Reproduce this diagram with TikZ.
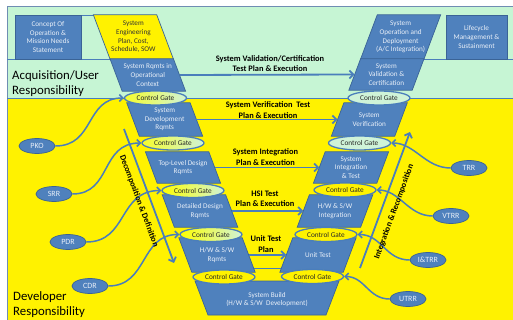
\documentclass[tikz,border=0pt]{standalone}
\usepackage{fontspec}
\setmainfont{Carlito}
\usetikzlibrary{arrows.meta,calc,shapes.geometric}

\definecolor{mintbg}{HTML}{C6F5D4}
\definecolor{gatemint}{HTML}{CFF3D8}
\definecolor{blockblue}{HTML}{4F81BD}
\definecolor{blockedge}{HTML}{3A6396}
\definecolor{linkblue}{HTML}{4A7EBB}
\definecolor{framegray}{HTML}{6F8DB3}
\definecolor{softwhite}{HTML}{E9EFF8}

\pgfdeclarelayer{back}
\pgfdeclarelayer{mid}
\pgfsetlayers{back,mid,main}

\tikzset{
  blktext/.style={minimum width=63, inner sep=0pt, align=center, text=softwhite,
    font=\fontsize{7.2}{8.7}\selectfont},
  blkshape/.style={fill=blockblue, draw=blockedge, line width=0.7pt},
  gate/.style={ellipse, draw=linkblue, line width=1.3pt, minimum width=62, minimum height=14,
    inner sep=0pt, text=black!85, font=\fontsize{7.3}{7.5}\selectfont},
  mintgate/.style={gate, fill=gatemint},
  yellowgate/.style={gate, fill=yellow},
  halfgate/.style={gate, left color=yellow, right color=gatemint},
  lightgate/.style={gate, left color=yellow!80!gatemint, middle color=gatemint, right color=gatemint},
  review/.style={ellipse, fill=blockblue, draw=blockedge, line width=0.7pt, minimum width=36,
    minimum height=15, inner sep=0pt, text=softwhite, font=\fontsize{8}{9}\selectfont},
  flow/.style={draw=linkblue, line width=1.8pt, -{Straight Barb[length=4pt,width=8pt]}},
  reviewlink/.style={draw=linkblue, line width=1.5pt, -{Straight Barb[length=3.5pt,width=7pt]}},
  planlabel/.style={inner sep=0pt, align=center, font=\bfseries\fontsize{8.4}{10.4}\selectfont},
  phaselabel/.style={inner sep=0pt, font=\bfseries\fontsize{8.4}{10}\selectfont},
  zonelabel/.style={inner sep=0pt, align=left, anchor=base west, font=\fontsize{12.8}{14.5}\selectfont},
  rowline/.style={draw=linkblue, line width=0.7pt},
}

% left-arm block: bottom edge shifted right of the top edge
\newcommand\lblk[5]{%
  \node[blktext, minimum height=#4] (#1) at (#2,#3) {#5};
  \begin{pgfonlayer}{mid}
    \path[blkshape] ([xshift=-0.19*#4]#1.north west) -- ([xshift=-0.19*#4]#1.north east)
      -- ([xshift=0.19*#4]#1.south east) -- ([xshift=0.19*#4]#1.south west) -- cycle;
  \end{pgfonlayer}}
% right-arm block: bottom edge shifted left of the top edge
\newcommand\rblk[5]{%
  \node[blktext, minimum height=#4] (#1) at (#2,#3) {#5};
  \begin{pgfonlayer}{mid}
    \path[blkshape] ([xshift=0.19*#4]#1.north west) -- ([xshift=0.19*#4]#1.north east)
      -- ([xshift=-0.19*#4]#1.south east) -- ([xshift=-0.19*#4]#1.south west) -- cycle;
  \end{pgfonlayer}}

\begin{document}
\begin{tikzpicture}[x=1pt, y=-1pt]
\useasboundingbox (0,0) rectangle (513,320);

% background zones and row lines
\begin{pgfonlayer}{back}
  \fill[mintbg] (7,6) rectangle (513,98);
  \fill[yellow] (7,98) rectangle (513,320);
  \draw[framegray, line width=0.8pt] (7,320) -- (7,6) -- (513,6);
  \draw[rowline, line width=0.9pt] (7,98) -- (513,98);
  \draw[rowline] (7,59.5) -- (112,59.5);
  \draw[rowline] (420,59.5) -- (513,59.5);
  \draw[rowline] (80,15) -- (97,15);
  \draw[rowline] (240,268.5) -- (292,268.5);
\end{pgfonlayer}

% zone labels (anchored on the baseline of their last line)
\node[zonelabel] (acq) at (12,94.5) {Acquisition/User\\Responsibility};
\node[zonelabel] (dev) at (13,315) {Developer\\Responsibility};

% top row boxes
\node[blktext, minimum width=66, minimum height=44, fill=blockblue, draw=blockedge, line width=0.7pt]
  (conops) at (48,37) {Concept Of\\Operation \&\\Mission Needs\\Statement};
\node[blktext, minimum width=61, minimum height=44, fill=blockblue, draw=blockedge, line width=0.7pt]
  (lifecycle) at (476.5,37) {Lifecycle\\Management \&\\Sustainment};

% systems engineering plan (yellow block)
\node[blktext, minimum height=44, text=black!80] (l0) at (133.4,37)
  {System\\Engineering\\Plan, Cost,\\Schedule, SOW};
\begin{pgfonlayer}{mid}
  \path[fill=yellow, draw=blockedge, line width=0.7pt]
    ([xshift=-8.36]l0.north west) -- ([xshift=-8.36]l0.north east)
    -- ([xshift=8.36]l0.south east) -- ([xshift=8.36]l0.south west) -- cycle;
\end{pgfonlayer}

% left arm
\lblk{l1}{147.8}{75}{32}{System Rqmts in\\Operational\\Context}
\lblk{l2}{164.7}{119.5}{33}{System\\Development\\Rqmts}
\lblk{l3}{183}{167.5}{31}{Top-Level Design\\Rqmts}
\lblk{l4}{200}{211}{32}{Detailed Design\\Rqmts}
\lblk{l5}{217}{255}{34}{H/W \& S/W\\Rqmts}

% right arm
\rblk{r0}{400.6}{37}{44}{System\\Operation and\\Deployment\\(A/C Integration)}
\rblk{r1}{386.4}{74.5}{31}{System\\Validation \&\\Certification}
\rblk{r2}{369.3}{119.5}{33}{System\\Verification}
\rblk{r3}{351}{167.5}{31}{System\\Integration\\\& Test}
\rblk{r4}{335}{211}{32}{H/W \& S/W\\Integration}
\rblk{r5}{318}{255}{34}{Unit Test}

% system build at the base of the V
\node[blktext, minimum width=110, minimum height=30] (build) at (267,299.5)
  {System Build\\(H/W \& S/W~ Development)};
\begin{pgfonlayer}{mid}
  \path[blkshape] (195,281) -- (339,281) -- (326,315) -- (208,315) -- cycle;
\end{pgfonlayer}

% control gates
\node[lightgate]  (gl1) at (155.5,98)  {Control Gate};
\node[mintgate]   (gr1) at (379,98)    {Control Gate};
\node[lightgate]  (gl2) at (173,143)   {Control Gate};
\node[mintgate]   (gr2) at (359.5,143) {Control Gate};
\node[halfgate]   (gl3) at (193,190.5) {Control Gate};
\node[yellowgate] (gr3) at (345,190)   {Control Gate};
\node[halfgate]   (gl4) at (211,234.5) {Control Gate};
\node[yellowgate] (gr4) at (326,234.5) {Control Gate};
\node[yellowgate] (gl5) at (224,277)   {Control Gate};
\node[yellowgate] (gr5) at (312.5,276.5) {Control Gate};

% test planning flows across the V
\draw[flow] (l1.east) -- (r1.west);
\draw[flow] (l2.east) -- (r2.west);
\draw[flow] (l3.east) -- (r3.west);
\draw[flow] (l4.east) -- (r4.west);
\draw[flow] (l5.east) -- (r5.west);

\node[planlabel] (p1) at (270,63.5) {System Validation/Certification\\Test Plan \& Execution};
\node[planlabel] (p2) at (268,110) {System Verification~~Test\\Plan \& Execution};
\node[planlabel] (p3) at (265.5,157) {System Integration\\Plan \& Execution};
\node[planlabel] (p4) at (265,199) {HSI Test\\Plan \& Execution};
\node[planlabel] (p5) at (266,244) {Unit Test\\Plan};

% reviews feeding the gates
\node[review] (pko)  at (37,146)  {PKO};
\node[review] (srr)  at (54,194)  {SRR};
\node[review] (pdr)  at (68,242)  {PDR};
\node[review] (cdr)  at (90,286)  {CDR};
\node[review] (trr)  at (469,168) {TRR};
\node[review] (vtrr) at (451,216) {VTRR};
\node[review] (itrr) at (428,260) {I\&TRR};
\node[review] (utrr) at (408,299) {UTRR};

\draw[reviewlink] (pko.east) .. controls (95,146) and (85,98) .. (gl1.west);
\draw[reviewlink] (srr.east) .. controls (112,194) and (100,143) .. (gl2.west);
\draw[reviewlink] (pdr.east) .. controls (128,242) and (118,190.5) .. (gl3.west);
\draw[reviewlink] (cdr.east) .. controls (148,286) and (140,234.5) .. (gl4.west);
\draw[reviewlink] (trr.west) .. controls (425,168) and (415,143) .. (gr2.east);
\draw[reviewlink] (vtrr.west) .. controls (408,216) and (400,190) .. (gr3.east);
\draw[reviewlink] (itrr.west) .. controls (385,260) and (382,234.5) .. (gr4.east);
\draw[reviewlink] (utrr.west) .. controls (368,299) and (365,276.5) .. (gr5.east);

% decomposition and integration directions
\coordinate (dtop) at (124,129);
\coordinate (dbot) at (174,263);
\coordinate (ibot) at (360,268);
\coordinate (itop) at (410,132);
\draw[flow] (dtop) -- (dbot);
\draw[flow] (ibot) -- (itop);
\node[phaselabel, rotate=-69.5] (declbl) at (139,201) {Decomposition \& Definition};
\node[phaselabel, rotate=69.8] (intlbl) at (394,212) {Integration \& Recomposition};
\end{tikzpicture}
\end{document}
